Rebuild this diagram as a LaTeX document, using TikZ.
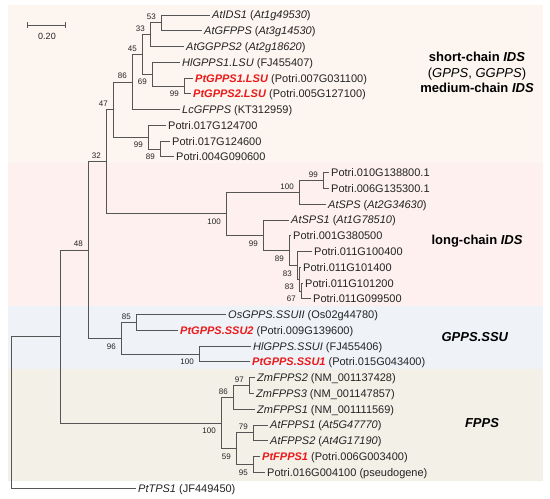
\documentclass[tikz,border=0pt]{standalone}
\usepackage{fontspec}
\setmainfont{Liberation Sans}
\definecolor{bandA}{RGB}{253,245,239}
\definecolor{bandB}{RGB}{253,240,239}
\definecolor{bandC}{RGB}{239,243,248}
\definecolor{bandD}{RGB}{243,240,232}
\definecolor{treec}{RGB}{85,85,85}
\definecolor{txt}{RGB}{35,35,35}
\definecolor{hl}{RGB}{235,25,25}
\newcommand{\itx}[1]{\textit{#1}}
\newcommand{\hlt}[1]{\textcolor{hl}{\textbf{\textit{#1}}}}
\begin{document}
\begin{tikzpicture}[x=1pt,y=-1pt,
  br/.style={draw=treec, line width=0.9pt},
  leaf/.style={anchor=west, inner xsep=2.5pt, inner ysep=0pt, text height=7.9pt, text depth=0pt, font=\fontsize{11}{12}\selectfont, text=txt},
  bsa/.style={anchor=south east, inner sep=0pt, font=\fontsize{8}{9}\selectfont, text=txt},
  bsb/.style={anchor=north east, inner sep=0pt, font=\fontsize{8}{9}\selectfont, text=txt},
  clade/.style={font=\fontsize{13}{15.5}\selectfont\bfseries, align=center, text=black}]
\useasboundingbox (0,0) rectangle (550,499);
% bands
\fill[bandA] (8,5) rectangle (543,163);
\fill[bandB] (8,163) rectangle (543,306);
\fill[bandC] (8,306) rectangle (543,369);
\fill[bandD] (8,369) rectangle (543,481);
% scale bar
\draw[br] (27,25) -- (65,25);
\draw[br] (27,22) -- (27,28);
\draw[br] (65,22) -- (65,28);
\node[font=\fontsize{9}{10}\selectfont, text=txt] (sbl) at (47,36) {0.20};
% leaves
\node[leaf] (l1) at (209.5,15.0) {\itx{AtIDS1} (\itx{At1g49530})};
\node[leaf] (l2) at (201.5,30.8) {\itx{AtGFPPS} (\itx{At3g14530})};
\node[leaf] (l3) at (183.5,46.5) {\itx{AtGGPPS2} (\itx{At2g18620})};
\node[leaf] (l4) at (179.5,62.3) {\itx{HlGPPS1.LSU} (FJ455407)};
\node[leaf] (l5) at (192.5,78.1) {\hlt{PtGPPS1.LSU} (Potri.007G031100)};
\node[leaf] (l6) at (190.5,93.9) {\hlt{PtGPPS2.LSU} (Potri.005G127100)};
\node[leaf] (l7) at (179.5,109.6) {\itx{LcGFPPS} (KT312959)};
\node[leaf] (l8) at (165.5,125.4) {Potri.017G124700};
\node[leaf] (l9) at (169.5,141.2) {Potri.017G124600};
\node[leaf] (l10) at (173.5,156.9) {Potri.004G090600};
\node[leaf] (l11) at (328.5,172.7) {Potri.010G138800.1};
\node[leaf] (l12) at (328.5,188.5) {Potri.006G135300.1};
\node[leaf] (l13) at (325.5,204.2) {\itx{AtSPS} (\itx{At2G34630})};
\node[leaf] (l14) at (288.5,220.0) {\itx{AtSPS1} (\itx{At1G78510})};
\node[leaf] (l15) at (290.5,235.8) {Potri.001G380500};
\node[leaf] (l16) at (311.5,251.6) {Potri.011G100400};
\node[leaf] (l17) at (300.5,267.3) {Potri.011G101400};
\node[leaf] (l18) at (302.5,283.1) {Potri.011G101200};
\node[leaf] (l19) at (310.5,298.9) {Potri.011G099500};
\node[leaf] (l20) at (225.5,314.6) {\itx{OsGPPS.SSUII} (Os02g44780)};
\node[leaf] (l21) at (177.5,330.4) {\hlt{PtGPPS.SSU2} (Potri.009G139600)};
\node[leaf] (l22) at (250.5,346.2) {\itx{HlGPPS.SSUI} (FJ455406)};
\node[leaf] (l23) at (249.5,361.9) {\hlt{PtGPPS.SSU1} (Potri.015G043400)};
\node[leaf] (l24) at (254.5,377.7) {\itx{ZmFPPS2} (NM\_001137428)};
\node[leaf] (l25) at (253.5,393.5) {\itx{ZmFPPS3} (NM\_001147857)};
\node[leaf] (l26) at (254.5,409.3) {\itx{ZmFPPS1} (NM\_001111569)};
\node[leaf] (l27) at (267.5,425.0) {\itx{AtFPPS1} (\itx{At5G47770})};
\node[leaf] (l28) at (267.5,440.8) {\itx{AtFPPS2} (\itx{At4G17190})};
\node[leaf] (l29) at (259.5,456.6) {\hlt{PtFPPS1} (Potri.006G003400)};
\node[leaf] (l30) at (264.5,472.3) {Potri.016G004100 (pseudogene)};
\node[leaf] (l31) at (135.5,488.1) {\itx{PtTPS1} (JF449450)};
% internal nodes
\coordinate (n53) at (161,22.9);
\coordinate (n33) at (150,34.7);
\coordinate (n99a) at (184,86.0);
\coordinate (n69) at (152,74.2);
\coordinate (n45) at (142,54.4);
\coordinate (n86) at (132,82.0);
\coordinate (nP89) at (160,149.0);
\coordinate (nP99) at (148,137.2);
\coordinate (n47) at (113,109.6);
\coordinate (nL99) at (323,180.6);
\coordinate (nL100b) at (299,192.4);
\coordinate (nC) at (301,291.0);
\coordinate (nB) at (299,279.2);
\coordinate (nA) at (297,265.4);
\coordinate (nL89) at (289,250.6);
\coordinate (nL99b) at (263,235.3);
\coordinate (nL100) at (226,213.9);
\coordinate (n32) at (106,161.7);
\coordinate (n85) at (136,322.5);
\coordinate (nS100) at (199,354.0);
\coordinate (n96) at (121,338.3);
\coordinate (n48) at (88,250.0);
\coordinate (nF97) at (249,385.6);
\coordinate (nF86) at (233,397.4);
\coordinate (nF79) at (253,432.9);
\coordinate (nF95) at (253,464.5);
\coordinate (nF59) at (236,448.7);
\coordinate (nF100) at (221,423.0);
\coordinate (nR2) at (60,336.5);
\coordinate (nR) at (11,412.3);
% branches
\draw[br] (n53) |- (l1.west); \draw[br] (n53) |- (l2.west);
\draw[br] (n33) |- (n53); \draw[br] (n33) |- (l3.west);
\draw[br] (n99a) |- (l5.west); \draw[br] (n99a) |- (l6.west);
\draw[br] (n69) |- (l4.west); \draw[br] (n69) |- (n99a);
\draw[br] (n45) |- (n33); \draw[br] (n45) |- (n69);
\draw[br] (n86) |- (n45); \draw[br] (n86) |- (l7.west);
\draw[br] (nP89) |- (l9.west); \draw[br] (nP89) |- (l10.west);
\draw[br] (nP99) |- (l8.west); \draw[br] (nP99) |- (nP89);
\draw[br] (n47) |- (n86); \draw[br] (n47) |- (nP99);
\draw[br] (nL99) |- (l11.west); \draw[br] (nL99) |- (l12.west);
\draw[br] (nL100b) |- (nL99); \draw[br] (nL100b) |- (l13.west);
\draw[br] (nC) |- (l18.west); \draw[br] (nC) |- (l19.west);
\draw[br] (nB) |- (l17.west); \draw[br] (nB) |- (nC);
\draw[br] (nA) |- (l16.west); \draw[br] (nA) |- (nB);
\draw[br] (nL89) |- (l15.west); \draw[br] (nL89) |- (nA);
\draw[br] (nL99b) |- (l14.west); \draw[br] (nL99b) |- (nL89);
\draw[br] (nL100) |- (nL100b); \draw[br] (nL100) |- (nL99b);
\draw[br] (n32) |- (n47); \draw[br] (n32) |- (nL100);
\draw[br] (n85) |- (l20.west); \draw[br] (n85) |- (l21.west);
\draw[br] (nS100) |- (l22.west); \draw[br] (nS100) |- (l23.west);
\draw[br] (n96) |- (n85); \draw[br] (n96) |- (nS100);
\draw[br] (n48) |- (n32); \draw[br] (n48) |- (n96);
\draw[br] (nF97) |- (l24.west); \draw[br] (nF97) |- (l25.west);
\draw[br] (nF86) |- (nF97); \draw[br] (nF86) |- (l26.west);
\draw[br] (nF79) |- (l27.west); \draw[br] (nF79) |- (l28.west);
\draw[br] (nF95) |- (l29.west); \draw[br] (nF95) |- (l30.west);
\draw[br] (nF59) |- (nF79); \draw[br] (nF59) |- (nF95);
\draw[br] (nF100) |- (nF86); \draw[br] (nF100) |- (nF59);
\draw[br] (nR2) |- (n48); \draw[br] (nR2) |- (nF100);
\draw[br] (nR) |- (nR2); \draw[br] (nR) |- (l31.west);
% bootstrap values
\node[bsa] (b53) at ([shift={(-5,-3)}]n53) {53};
\node[bsa] (b33) at ([shift={(-5,-3)}]n33) {33};
\node[bsb] (b99a) at ([shift={(-5,5)}]n99a) {99};
\node[bsb] (b69) at ([shift={(-5,5)}]n69) {69};
\node[bsa] (b45) at ([shift={(-5,-3)}]n45) {45};
\node[bsa] (b86) at ([shift={(-5,-3)}]n86) {86};
\node[bsb] (bP89) at ([shift={(-5,5)}]nP89) {89};
\node[bsb] (bP99) at ([shift={(-5,5)}]nP99) {99};
\node[bsa] (b47) at ([shift={(-5,-3)}]n47) {47};
\node[bsa] (bL99) at ([shift={(-5,-3)}]nL99) {99};
\node[bsa] (bL100b) at ([shift={(-5,-3)}]nL100b) {100};
\node[bsb] (bC) at ([shift={(-5,5)}]nC) {67};
\node[bsb] (bB) at ([shift={(-5,5)}]nB) {83};
\node[bsb] (bA) at ([shift={(-5,5)}]nA) {83};
\node[bsb] (bL89) at ([shift={(-5,5)}]nL89) {89};
\node[bsb] (bL99b) at ([shift={(-5,5)}]nL99b) {99};
\node[bsb] (bL100) at ([shift={(-5,5)}]nL100) {100};
\node[bsa] (b32) at ([shift={(-5,-3)}]n32) {32};
\node[bsa] (b85) at ([shift={(-5,-3)}]n85) {85};
\node[bsb] (bS100) at ([shift={(-5,5)}]nS100) {100};
\node[bsb] (b96) at ([shift={(-5,5)}]n96) {96};
\node[bsa] (b48) at ([shift={(-5,-3)}]n48) {48};
\node[bsa] (bF97) at ([shift={(-5,-3)}]nF97) {97};
\node[bsa] (bF86) at ([shift={(-5,-3)}]nF86) {86};
\node[bsa] (bF79) at ([shift={(-5,-3)}]nF79) {79};
\node[bsb] (bF95) at ([shift={(-5,5)}]nF95) {95};
\node[bsb] (bF59) at ([shift={(-5,5)}]nF59) {59};
\node[bsb] (bF100) at ([shift={(-5,5)}]nF100) {100};
% clade labels
\node[clade] (cA) at (477,72.5) {short-chain \textit{IDS}\\{\mdseries(\textit{GPPS}, \textit{GGPPS})}\\medium-chain \textit{IDS}};
\node[clade] (cB) at (477,241) {long-chain \textit{IDS}};
\node[clade] (cC) at (475,337) {\textit{GPPS.SSU}};
\node[clade] (cD) at (482,423) {\textit{FPPS}};
\end{tikzpicture}
\end{document}
